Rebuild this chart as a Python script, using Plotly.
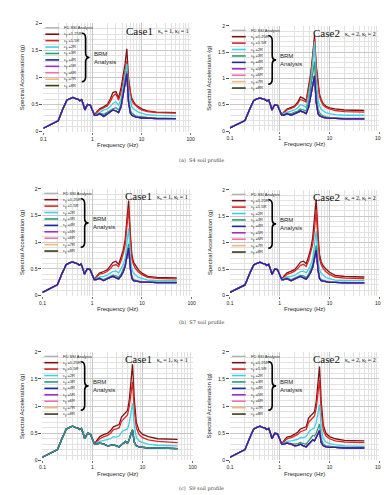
import plotly.graph_objects as go

W, H = 389, 495

# ---------------- data ----------------
LF_FREQ = [0.1, 0.2, 0.25, 0.3, 0.35, 0.4, 0.45, 0.5, 0.55, 0.6, 0.65, 0.7, 0.75, 0.8, 0.9, 1.0, 1.1]
LF_SA = [0.06, 0.2, 0.42, 0.58, 0.61, 0.63, 0.61, 0.6, 0.57, 0.59, 0.5, 0.4, 0.46, 0.5, 0.49, 0.37, 0.3]
HF_FREQ = [1.2, 1.4, 1.7, 2.0, 2.3, 2.6, 3.0, 3.4, 3.8, 4.2, 4.6, 5.0, 5.4, 5.9, 6.3, 6.8, 7.5, 8.5, 10, 13, 20, 50]

# S4 Case1
s4c1_r125 = [0.36, 0.42, 0.46, 0.50, 0.60, 0.72, 0.74, 0.62, 0.80, 1.00, 1.25, 1.53, 1.00, 0.72, 0.62, 0.56, 0.50, 0.46, 0.42, 0.38, 0.36, 0.35]
s4c1_r15 = [0.34, 0.40, 0.44, 0.47, 0.55, 0.65, 0.70, 0.58, 0.72, 0.92, 1.12, 1.30, 0.95, 0.68, 0.58, 0.52, 0.48, 0.44, 0.40, 0.37, 0.35, 0.34]
s4c1_r2 = [0.32, 0.36, 0.40, 0.42, 0.46, 0.52, 0.55, 0.48, 0.60, 0.82, 1.05, 1.25, 0.80, 0.55, 0.46, 0.42, 0.39, 0.36, 0.34, 0.31, 0.30, 0.29]
s4c1_r3 = [0.30, 0.34, 0.32, 0.36, 0.40, 0.42, 0.44, 0.40, 0.50, 0.72, 0.95, 1.12, 0.62, 0.40, 0.34, 0.31, 0.29, 0.28, 0.27, 0.26, 0.25, 0.24]
s4c1_low = [0.30, 0.33, 0.28, 0.33, 0.36, 0.40, 0.38, 0.35, 0.45, 0.66, 0.88, 1.07, 0.55, 0.34, 0.30, 0.28, 0.27, 0.26, 0.25, 0.25, 0.24, 0.24]

# S4 Case2
s4c2_r125 = [0.36, 0.42, 0.45, 0.48, 0.55, 0.65, 0.62, 0.58, 0.85, 1.10, 1.45, 1.82, 1.25, 0.85, 0.70, 0.60, 0.52, 0.47, 0.44, 0.42, 0.40, 0.39]
s4c2_r15 = [0.35, 0.40, 0.43, 0.46, 0.52, 0.60, 0.58, 0.55, 0.80, 1.05, 1.40, 1.75, 1.20, 0.80, 0.66, 0.56, 0.49, 0.45, 0.42, 0.39, 0.37, 0.36]
s4c2_r2 = [0.33, 0.36, 0.38, 0.40, 0.44, 0.50, 0.48, 0.45, 0.68, 0.95, 1.30, 1.70, 1.00, 0.60, 0.48, 0.42, 0.38, 0.35, 0.33, 0.31, 0.30, 0.30]
s4c2_r3 = [0.31, 0.34, 0.33, 0.36, 0.38, 0.42, 0.40, 0.38, 0.55, 0.80, 1.05, 1.32, 0.70, 0.42, 0.35, 0.31, 0.29, 0.27, 0.26, 0.25, 0.24, 0.24]
s4c2_low = [0.30, 0.33, 0.30, 0.33, 0.35, 0.38, 0.36, 0.33, 0.45, 0.66, 0.88, 1.05, 0.55, 0.33, 0.29, 0.27, 0.26, 0.25, 0.24, 0.24, 0.23, 0.23]

# S7 Case1
s7c1_r125 = [0.35, 0.42, 0.45, 0.48, 0.55, 0.62, 0.64, 0.58, 0.72, 0.85, 1.05, 1.40, 1.78, 1.10, 0.75, 0.62, 0.55, 0.48, 0.42, 0.36, 0.34, 0.33]
s7c1_r15 = [0.34, 0.40, 0.42, 0.45, 0.50, 0.56, 0.58, 0.54, 0.65, 0.78, 0.95, 1.25, 1.63, 1.00, 0.68, 0.57, 0.50, 0.44, 0.39, 0.34, 0.32, 0.31]
s7c1_r2 = [0.32, 0.35, 0.36, 0.38, 0.42, 0.45, 0.46, 0.42, 0.50, 0.58, 0.70, 0.95, 1.26, 0.70, 0.48, 0.42, 0.38, 0.34, 0.32, 0.29, 0.28, 0.28]
s7c1_r3 = [0.30, 0.33, 0.30, 0.33, 0.36, 0.38, 0.37, 0.34, 0.40, 0.48, 0.58, 0.78, 0.97, 0.52, 0.35, 0.30, 0.28, 0.27, 0.26, 0.25, 0.25, 0.25]
s7c1_low = [0.30, 0.32, 0.28, 0.32, 0.34, 0.36, 0.34, 0.31, 0.37, 0.44, 0.55, 0.72, 0.89, 0.48, 0.32, 0.28, 0.27, 0.26, 0.25, 0.25, 0.24, 0.24]

# S7 Case2
s7c2_r125 = [0.36, 0.43, 0.46, 0.49, 0.56, 0.63, 0.65, 0.60, 0.74, 0.88, 1.10, 1.45, 1.82, 1.12, 0.78, 0.64, 0.56, 0.50, 0.44, 0.38, 0.36, 0.35]
s7c2_r15 = [0.34, 0.40, 0.43, 0.46, 0.51, 0.57, 0.59, 0.55, 0.66, 0.80, 0.97, 1.26, 1.62, 1.00, 0.70, 0.58, 0.51, 0.45, 0.40, 0.35, 0.33, 0.32]
s7c2_r2 = [0.32, 0.35, 0.36, 0.38, 0.42, 0.45, 0.46, 0.43, 0.50, 0.58, 0.70, 0.93, 1.22, 0.68, 0.48, 0.42, 0.38, 0.34, 0.32, 0.29, 0.28, 0.28]
s7c2_r3 = [0.30, 0.33, 0.30, 0.33, 0.36, 0.38, 0.37, 0.34, 0.40, 0.48, 0.58, 0.77, 0.95, 0.52, 0.35, 0.30, 0.28, 0.27, 0.26, 0.25, 0.25, 0.24]
s7c2_low = [0.30, 0.32, 0.28, 0.32, 0.34, 0.36, 0.34, 0.31, 0.37, 0.44, 0.54, 0.70, 0.86, 0.47, 0.32, 0.28, 0.27, 0.26, 0.25, 0.25, 0.24, 0.24]

# S9 Case1
s9c1_r125 = [0.36, 0.44, 0.48, 0.50, 0.55, 0.62, 0.64, 0.66, 0.80, 0.84, 0.88, 0.92, 1.10, 1.45, 1.77, 1.15, 0.70, 0.55, 0.48, 0.44, 0.40, 0.39]
s9c1_r15 = [0.34, 0.40, 0.44, 0.46, 0.50, 0.57, 0.58, 0.60, 0.72, 0.76, 0.80, 0.84, 0.98, 1.25, 1.45, 0.95, 0.60, 0.48, 0.42, 0.38, 0.35, 0.33]
s9c1_r2 = [0.32, 0.35, 0.37, 0.38, 0.40, 0.44, 0.43, 0.45, 0.52, 0.55, 0.56, 0.58, 0.68, 0.90, 1.05, 0.65, 0.42, 0.36, 0.33, 0.30, 0.28, 0.27]
s9c1_r3 = [0.30, 0.32, 0.30, 0.27, 0.28, 0.29, 0.27, 0.25, 0.29, 0.33, 0.35, 0.32, 0.38, 0.50, 0.57, 0.34, 0.27, 0.25, 0.24, 0.23, 0.23, 0.22]
s9c1_low = [0.30, 0.32, 0.30, 0.27, 0.28, 0.29, 0.27, 0.25, 0.29, 0.33, 0.35, 0.32, 0.38, 0.50, 0.56, 0.34, 0.27, 0.25, 0.24, 0.23, 0.23, 0.22]

# S9 Case2
s9c2_r125 = [0.36, 0.43, 0.45, 0.48, 0.52, 0.58, 0.60, 0.62, 0.78, 0.82, 0.86, 0.90, 1.08, 1.40, 1.73, 1.10, 0.65, 0.50, 0.44, 0.40, 0.37, 0.36]
s9c2_r15 = [0.34, 0.40, 0.42, 0.45, 0.48, 0.53, 0.55, 0.57, 0.70, 0.74, 0.78, 0.82, 0.96, 1.22, 1.48, 0.92, 0.56, 0.45, 0.40, 0.36, 0.34, 0.33]
s9c2_r2 = [0.32, 0.35, 0.36, 0.37, 0.39, 0.42, 0.42, 0.44, 0.52, 0.56, 0.58, 0.60, 0.70, 0.88, 1.03, 0.62, 0.40, 0.34, 0.31, 0.29, 0.27, 0.26]
s9c2_r3 = [0.31, 0.33, 0.31, 0.30, 0.31, 0.33, 0.31, 0.30, 0.36, 0.42, 0.46, 0.45, 0.50, 0.60, 0.67, 0.40, 0.30, 0.27, 0.26, 0.25, 0.24, 0.24]
s9c2_low = [0.30, 0.32, 0.30, 0.27, 0.28, 0.30, 0.27, 0.25, 0.30, 0.35, 0.38, 0.36, 0.42, 0.50, 0.55, 0.33, 0.27, 0.25, 0.24, 0.24, 0.23, 0.23]

SERIES_NAMES = ["FD SSI Analysis", "c<sub>y</sub> =1.25R", "c<sub>y</sub> =1.5R", "c<sub>y</sub> =2R",
                "c<sub>y</sub> =3R", "c<sub>y</sub> =4R", "c<sub>y</sub> =5R", "c<sub>y</sub> =6R",
                "c<sub>y</sub> =7R", "c<sub>y</sub> =8R"]
SERIES_KEYS = ["low", "r125", "r15", "r2", "r3", "low", "low", "low", "low", "low"]
CASE_LABELS = ["Case1", "Case2", "Case1", "Case2", "Case1", "Case2"]
KAPPA_LABELS = ["κ<sub>s</sub> = 1, κ<sub>l</sub> = 1", "κ<sub>s</sub> = 2, κ<sub>l</sub> = 2"] * 3
CAPTIONS = ["(a)  S4 soil profile", "(b)  S7 soil profile", "(c)  S9 soil profile"]
Y_TITLE = "Spectral Acceleration (g)"
X_TITLE = "Frequency (Hz)"

PANEL_DATA = [
    dict(r125=s4c1_r125, r15=s4c1_r15, r2=s4c1_r2, r3=s4c1_r3, low=s4c1_low),
    dict(r125=s4c2_r125, r15=s4c2_r15, r2=s4c2_r2, r3=s4c2_r3, low=s4c2_low),
    dict(r125=s7c1_r125, r15=s7c1_r15, r2=s7c1_r2, r3=s7c1_r3, low=s7c1_low),
    dict(r125=s7c2_r125, r15=s7c2_r15, r2=s7c2_r2, r3=s7c2_r3, low=s7c2_low),
    dict(r125=s9c1_r125, r15=s9c1_r15, r2=s9c1_r2, r3=s9c1_r3, low=s9c1_low),
    dict(r125=s9c2_r125, r15=s9c2_r15, r2=s9c2_r2, r3=s9c2_r3, low=s9c2_low),
]

# ---------------- style / layout ----------------
SANS = "Liberation Sans"
COLORS = ["#8e8e8e", "#7a1414", "#e02424", "#3fd0e2", "#2a9d7c", "#1c2a9c",
          "#9b30c8", "#f070b0", "#f2b878", "#3a3a1a"]
WIDTHS = [0.9, 1.3, 1.3, 1.3, 1.3, 1.3, 1.3, 1.3, 1.3, 1.3]
DRAW_ORDER = [[0, 1, 2, 3, 4, 9, 8, 7, 6, 5]] * 4 + [[0, 1, 2, 3, 9, 8, 7, 6, 5, 4]] + [[0, 1, 2, 3, 4, 9, 8, 7, 6, 5]]
PANEL_PX = [(33, 12.5, 183, 122), (223, 15, 375, 121.5),
            (32, 180, 184, 288), (223, 181, 375, 288),
            (32, 345, 185, 455), (223, 345, 375, 455)]
CAPTION_Y = [151, 315, 483]


def pp(x, y):
    return x / W, 1 - y / H


fig = go.Figure()
shapes = []
annots = []
layout_axes = {}

for i, (l, t, r, b) in enumerate(PANEL_PX):
    sfx = "" if i == 0 else str(i + 1)
    xref, yref = "x" + sfx, "y" + sfx
    data = PANEL_DATA[i]
    freq = LF_FREQ + HF_FREQ
    for k in DRAW_ORDER[i]:
        sa = LF_SA + data[SERIES_KEYS[k]]
        fig.add_trace(go.Scatter(x=freq, y=sa, mode="lines", xaxis=xref, yaxis=yref,
                                 line=dict(color=COLORS[k], width=WIDTHS[k]),
                                 showlegend=False, hoverinfo="skip"))
    layout_axes["xaxis" + sfx] = dict(
        type="log", range=[-1, 2], domain=[l / W, r / W], anchor=yref, dtick=1,
        showgrid=True, gridcolor="#c8c8c8", gridwidth=0.8,
        minor=dict(dtick="D1", showgrid=True, gridcolor="#e2e2e2", gridwidth=0.6),
        ticks="outside", ticklen=2, tickcolor="#777", showline=False, zeroline=False,
        tickfont=dict(family=SANS, size=5, color="#222"))
    layout_axes["yaxis" + sfx] = dict(
        range=[0, 2], domain=[1 - b / H, 1 - t / H], anchor=xref, dtick=0.5,
        showgrid=True, gridcolor="#c8c8c8", gridwidth=0.8,
        minor=dict(dtick=0.1, showgrid=True, gridcolor="#e2e2e2", gridwidth=0.6),
        ticks="outside", ticklen=3, tickcolor="#555", showline=False, zeroline=False,
        tickfont=dict(family=SANS, size=5, color="#222"))

    # legend white box (above grid, below traces)
    x0, y0 = pp(l, t)
    x1, y1 = pp(l + 77, t + 65)
    shapes.append(dict(type="rect", xref="paper", yref="paper", x0=x0, x1=x1, y0=y1, y1=y0,
                       fillcolor="white", line=dict(width=0), layer="between"))
    # legend keys and labels
    for k in range(10):
        yy = t + 4.5 + 6.5 * k
        a0, b0 = pp(l + 2, yy)
        a1, _ = pp(l + 16, yy)
        shapes.append(dict(type="line", xref="paper", yref="paper", x0=a0, x1=a1, y0=b0, y1=b0,
                           line=dict(color=COLORS[k], width=1.6 if k else 0.9)))
        tx, ty = pp(l + 19, yy)
        annots.append(dict(x=tx, y=ty, xref="paper", yref="paper", text=SERIES_NAMES[k],
                           showarrow=False, xanchor="left", yanchor="middle",
                           font=dict(family=SANS, size=4, color="#222")))
    # brace
    pts = lambda dx, dy: "%.5f,%.5f" % pp(l + dx, t + dy)
    path = ("M " + pts(39, 10) + " Q " + pts(43, 10) + " " + pts(43, 15) +
            " L " + pts(43, 30) + " Q " + pts(43, 34.5) + " " + pts(47, 34.5) +
            " Q " + pts(43, 34.5) + " " + pts(43, 39) + " L " + pts(43, 54) +
            " Q " + pts(43, 59) + " " + pts(39, 59))
    shapes.append(dict(type="path", xref="paper", yref="paper", path=path,
                       line=dict(color="black", width=1.6)))
    bx, by = pp(l + 49, t + 35)
    annots.append(dict(x=bx, y=by, xref="paper", yref="paper", text="BRM<br>Analysis",
                       showarrow=False, xanchor="left", yanchor="middle", align="left",
                       font=dict(family=SANS, size=6, color="#222")))
    # case labels
    cx, cy = pp(l + 114, t + 7.5)
    annots.append(dict(x=cx, y=cy, xref="paper", yref="paper", text=CASE_LABELS[i],
                       showarrow=False, xanchor="right", yanchor="middle",
                       font=dict(family="Liberation Serif", size=11, color="#111")))
    kx, ky = pp(l + 115, t + 8.5)
    annots.append(dict(x=kx, y=ky, xref="paper", yref="paper", text=KAPPA_LABELS[i],
                       showarrow=False, xanchor="left", yanchor="middle",
                       font=dict(family="Liberation Serif", size=6, color="#111")))
    # axis titles
    yx, yy_ = pp(l - 21, (t + b) / 2)
    annots.append(dict(x=yx, y=yy_, xref="paper", yref="paper", text=Y_TITLE, textangle=-90,
                       showarrow=False, xanchor="center", yanchor="middle",
                       font=dict(family=SANS, size=6, color="#222")))
    xx, xy = pp((l + r) / 2, b + 13.5)
    annots.append(dict(x=xx, y=xy, xref="paper", yref="paper", text=X_TITLE,
                       showarrow=False, xanchor="center", yanchor="middle",
                       font=dict(family=SANS, size=6, color="#222")))

for j, cap in enumerate(CAPTIONS):
    cx, cy = pp(194, CAPTION_Y[j])
    annots.append(dict(x=cx, y=cy, xref="paper", yref="paper", text=cap,
                       showarrow=False, xanchor="center", yanchor="middle",
                       font=dict(family="DejaVu Serif", size=5, color="#444")))

fig.update_layout(width=W, height=H, margin=dict(l=0, r=0, t=0, b=0),
                  paper_bgcolor="white", plot_bgcolor="white", showlegend=False,
                  shapes=shapes, annotations=annots, **layout_axes)
fig.write_html("out.html")
